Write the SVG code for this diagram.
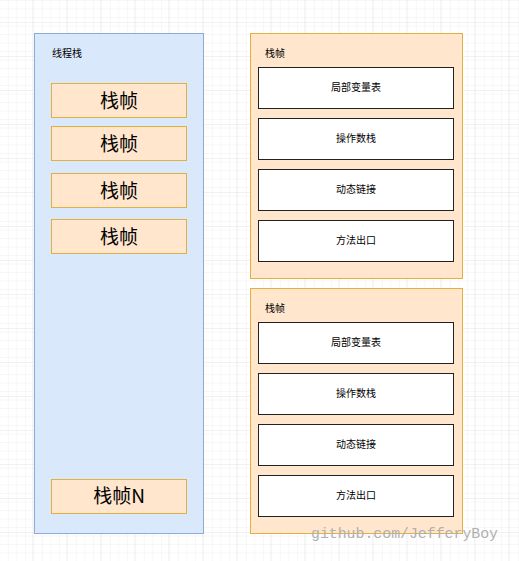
<svg xmlns="http://www.w3.org/2000/svg" width="519" height="561" viewBox="0 0 519 561">
<defs>
<pattern id="minor" x="0.3" y="1" width="8.5" height="8.5" patternUnits="userSpaceOnUse">
<path d="M8.5 0V8.5M0 8.5H8.5" fill="none" stroke="#f0f0f0" stroke-width="1"/>
</pattern>
<pattern id="major" x="-0.7" y="-11" width="34" height="34" patternUnits="userSpaceOnUse">
<path d="M34 0V34M0 34H34" fill="none" stroke="#e2e2e2" stroke-width="1"/>
</pattern>
<style>
.stack{fill:#dae8fc;stroke:#8eabd8;stroke-width:1}
.frame{fill:#ffe6cc;stroke:#e2b040;stroke-width:1}
.cell{fill:#ffffff;stroke:#222222;stroke-width:1}
.t{font-family:"Noto Sans CJK SC","Liberation Sans",sans-serif;fill:#000}
.small{font-size:10px}
.big{font-size:19px}
.mid{text-anchor:middle;dominant-baseline:central}
.wm{font-family:"Liberation Mono","DejaVu Sans Mono",monospace;font-size:15px;fill:#b0b0b0}
</style>
</defs>
<rect width="519" height="561" fill="#ffffff"/>
<rect width="519" height="561" fill="url(#minor)"/>
<rect width="519" height="561" fill="url(#major)"/>

<g id="thread-stack">
<rect class="stack" x="34.5" y="33.5" width="169" height="500"/>
<text class="t small" x="52" y="57">线程栈</text>
</g>
<g id="frame-1">
<rect class="frame" x="51.5" y="83.5" width="135" height="34"/>
<text class="t big mid" x="119" y="99">栈帧</text>
</g>
<g id="frame-2">
<rect class="frame" x="51.5" y="126.5" width="135" height="34"/>
<text class="t big mid" x="119" y="142">栈帧</text>
</g>
<g id="frame-3">
<rect class="frame" x="51.5" y="173.5" width="135" height="34"/>
<text class="t big mid" x="119" y="189">栈帧</text>
</g>
<g id="frame-4">
<rect class="frame" x="51.5" y="219.5" width="135" height="34"/>
<text class="t big mid" x="119" y="235">栈帧</text>
</g>
<g id="frame-n">
<rect class="frame" x="51.5" y="479.5" width="135" height="34"/>
<text class="t big mid" x="119" y="494.5">栈帧N</text>
</g>

<g id="detail-frame-1">
<rect class="frame" x="250.5" y="33.5" width="212" height="245"/>
<text class="t small" x="265" y="57">栈帧</text>
</g>
<g id="d1-locals">
<rect class="cell" x="258.5" y="67.5" width="195" height="41"/>
<text class="t small mid" x="356" y="86.5">局部变量表</text>
</g>
<g id="d1-operand">
<rect class="cell" x="258.5" y="118.5" width="195" height="41"/>
<text class="t small mid" x="356" y="137.5">操作数栈</text>
</g>
<g id="d1-link">
<rect class="cell" x="258.5" y="169.5" width="195" height="41"/>
<text class="t small mid" x="356" y="188.5">动态链接</text>
</g>
<g id="d1-exit">
<rect class="cell" x="258.5" y="220.5" width="195" height="41"/>
<text class="t small mid" x="356" y="239.5">方法出口</text>
</g>

<g id="detail-frame-2">
<rect class="frame" x="250.5" y="288.5" width="212" height="245"/>
<text class="t small" x="265" y="312">栈帧</text>
</g>
<g id="d2-locals">
<rect class="cell" x="258.5" y="322.5" width="195" height="41"/>
<text class="t small mid" x="356" y="341.5">局部变量表</text>
</g>
<g id="d2-operand">
<rect class="cell" x="258.5" y="373.5" width="195" height="41"/>
<text class="t small mid" x="356" y="392.5">操作数栈</text>
</g>
<g id="d2-link">
<rect class="cell" x="258.5" y="424.5" width="195" height="41"/>
<text class="t small mid" x="356" y="443.5">动态链接</text>
</g>
<g id="d2-exit">
<rect class="cell" x="258.5" y="475.5" width="195" height="41"/>
<text class="t small mid" x="356" y="494.5">方法出口</text>
</g>

<g id="connectors"></g>

<text class="wm" x="311" y="538" textLength="187" lengthAdjust="spacingAndGlyphs">github.com/JefferyBoy</text>
</svg>
